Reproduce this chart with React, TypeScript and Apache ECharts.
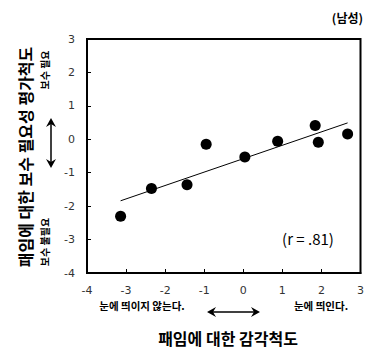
import React, { useEffect, useRef } from "react";
import * as echarts from "echarts";

const xValues = [-3.14, -2.35, -1.44, -0.95, 0.04, 0.88, 1.84, 1.92, 2.67];
const yValues = [-2.3, -1.47, -1.36, -0.15, -0.53, -0.06, 0.41, -0.09, 0.16];
const trendX = [-3.14, 2.67];
const trendY = [-1.84, 0.49];
const yTitle = "패임에 대한 보수 필요성 평가척도";
const xTitle = "패임에 대한 감각척도";
const groupLabel = "(남성)";
const rLabel = "(r = .81)";
const yHigh = "보수 필요";
const yLow = "보수 불필요";
const xLow = "눈에 띄이지 않는다.";
const xHigh = "눈에 띄인다.";

const KR = '"Noto Sans CJK KR", sans-serif';

function vArrow(x: number, y1: number, y2: number) {
  const h = 9, w = 5, n = 3;
  return [
    { type: "line", shape: { x1: x, y1: y1 + 4, x2: x, y2: y2 - 4 }, style: { stroke: "#000", lineWidth: 1.5 } },
    { type: "polygon", shape: { points: [[x, y1], [x + w, y1 + h], [x, y1 + h - n], [x - w, y1 + h]] }, style: { fill: "#000" } },
    { type: "polygon", shape: { points: [[x, y2], [x + w, y2 - h], [x, y2 - h + n], [x - w, y2 - h]] }, style: { fill: "#000" } },
  ];
}
function hArrow(y: number, x1: number, x2: number) {
  const h = 9, w = 5, n = 3;
  return [
    { type: "line", shape: { x1: x1 + 4, y1: y, x2: x2 - 4, y2: y }, style: { stroke: "#000", lineWidth: 1.5 } },
    { type: "polygon", shape: { points: [[x1, y], [x1 + h, y - w], [x1 + h - n, y], [x1 + h, y + w]] }, style: { fill: "#000" } },
    { type: "polygon", shape: { points: [[x2, y], [x2 - h, y - w], [x2 - h + n, y], [x2 - h, y + w]] }, style: { fill: "#000" } },
  ];
}

export default function App() {
  const ref = useRef<HTMLDivElement>(null);
  useEffect(() => {
    if (!ref.current) return;
    const chart = echarts.init(ref.current, null, { renderer: "svg" });
    const axisLabel = { color: "#333", fontSize: 11, fontFamily: "DejaVu Sans" };
    chart.setOption({
      animation: false,
      backgroundColor: "#fff",
      grid: { left: 87, top: 39, width: 274, height: 234, show: true, borderColor: "#000", borderWidth: 2, backgroundColor: "transparent" },
      xAxis: {
        type: "value", min: -4, max: 3, interval: 1,
        axisLine: { show: true, onZero: false, lineStyle: { color: "#000", width: 2 } },
        axisTick: { show: true, inside: true, length: 4, lineStyle: { color: "#000" } },
        splitLine: { show: false },
        axisLabel: { ...axisLabel, margin: 12 },
      },
      yAxis: {
        type: "value", min: -4, max: 3, interval: 1,
        axisLine: { show: true, onZero: false, lineStyle: { color: "#000", width: 2 } },
        axisTick: { show: true, inside: true, length: 4, lineStyle: { color: "#000" } },
        splitLine: { show: false },
        axisLabel: { ...axisLabel, margin: 12 },
      },
      series: [
        {
          type: "line",
          data: trendX.map((x, i) => [x, trendY[i]]),
          symbol: "none",
          lineStyle: { color: "#000", width: 1 },
          silent: true,
          z: 2,
        },
        {
          type: "scatter",
          data: xValues.map((x, i) => [x, yValues[i]]),
          symbol: "circle",
          symbolSize: 11,
          itemStyle: { color: "#000", opacity: 1 },
          z: 3,
        },
      ],
      graphic: [
        { type: "text", x: 363, y: 17, style: { text: groupLabel, font: `bold 12px ${KR}`, fill: "#000", align: "right", verticalAlign: "middle" } },
        { type: "text", x: 308, y: 238, style: { text: rLabel, font: `15px ${KR}`, fill: "#000", align: "center", verticalAlign: "middle" } },
        { type: "text", x: 25, y: 157, rotation: Math.PI / 2, style: { text: yTitle, font: `bold 16px ${KR}`, fill: "#000", align: "center", verticalAlign: "middle" } },
        { type: "text", x: 44, y: 70, rotation: Math.PI / 2, style: { text: yHigh, font: `bold 10px ${KR}`, fill: "#000", align: "center", verticalAlign: "middle" } },
        { type: "text", x: 44, y: 242, rotation: Math.PI / 2, style: { text: yLow, font: `bold 10px ${KR}`, fill: "#000", align: "center", verticalAlign: "middle" } },
        { type: "text", x: 142, y: 305, style: { text: xLow, font: `bold 10.5px ${KR}`, fill: "#000", align: "center", verticalAlign: "middle" } },
        { type: "text", x: 321, y: 305, style: { text: xHigh, font: `bold 10.5px ${KR}`, fill: "#000", align: "center", verticalAlign: "middle" } },
        { type: "text", x: 228, y: 338, style: { text: xTitle, font: `bold 16px ${KR}`, fill: "#000", align: "center", verticalAlign: "middle" } },
        ...vArrow(51, 118, 168),
        ...hArrow(312, 207, 260),
      ],
    });
    return () => chart.dispose();
  }, []);
  return <div ref={ref} style={{ position: "absolute", left: 0, top: 0, width: 367, height: 351 }} />;
}
